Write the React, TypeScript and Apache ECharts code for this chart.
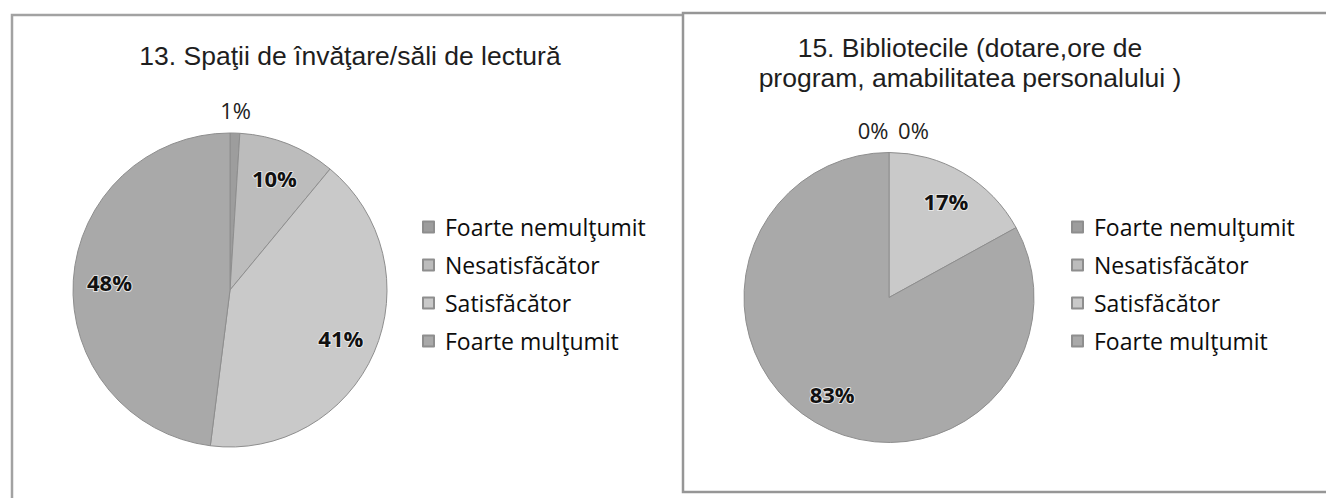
import React, { useEffect, useRef } from "react";
import * as echarts from "echarts";

const categories = ["Foarte nemulţumit", "Nesatisfăcător", "Satisfăcător", "Foarte mulţumit"];
const valuesSpatii = [1, 10, 41, 48];
const valuesBiblioteci = [0, 0, 17, 83];
const sliceColors = ["#9d9d9d", "#bcbcbc", "#c9c9c9", "#a9a9a9"];
const titleSpatii = "13. Spaţii de învăţare/săli de lectură";
const titleBiblioteci = "15. Bibliotecile (dotare,ore de\nprogram, amabilitatea personalului )";

const SMALL = 5;

function buildPie(values: number[], center: [number, number], r: number) {
  const base = {
    type: "pie",
    center,
    startAngle: 90,
    clockwise: true,
    silent: true,
    emphasis: { disabled: true },
    labelLine: { show: false },
  };
  const visible = {
    ...base,
    radius: [0, r],
    data: categories.map((name, i) => ({ name, value: values[i], itemStyle: { color: sliceColors[i] } })),
    itemStyle: { borderColor: "#8e8e8e", borderWidth: 1 },
    label: { show: false },
  };
  const inner = {
    ...base,
    radius: [r * 0.5, r],
    data: categories.map((name, i) => ({ name, value: values[i], label: { show: values[i] >= SMALL } })),
    itemStyle: { color: "rgba(0,0,0,0)" },
    label: {
      show: true,
      position: "inside",
      formatter: (p: any) => p.value + "%",
      fontFamily: "Open Sans",
      fontWeight: "bold",
      fontSize: 22,
      color: "#111",
      textBorderColor: "rgba(235,235,235,0.9)",
      textBorderWidth: 2,
    },
  };
  let zeroIdx = 0;
  const outer = {
    ...base,
    radius: [r, r + 40],
    data: categories.map((name, i) => {
      let padding: number[] = [0, 0, 0, 0];
      if (values[i] === 0) {
        padding = zeroIdx === 0 ? [0, 32, 0, 0] : [0, 0, 0, 49];
        zeroIdx++;
      }
      return { name, value: values[i], label: { show: values[i] < SMALL, padding } };
    }),
    itemStyle: { color: "rgba(0,0,0,0)" },
    label: {
      show: true,
      position: "inside",
      formatter: (p: any) => p.value + "%",
      fontFamily: "Open Sans",
      fontSize: 22,
      color: "#222",
    },
  };
  return [visible, inner, outer];
}

function makeLegend(left: number) {
  return {
    orient: "vertical",
    left,
    top: 215.5,
    padding: 0,
    icon: "rect",
    itemWidth: 11,
    itemHeight: 11,
    itemGap: 15,
    selectedMode: false,
    data: categories,
    textStyle: {
      fontFamily: "Open Sans",
      fontSize: 23,
      lineHeight: 23,
      color: "#0d0d0d",
      padding: [0, 0, 0, 6],
    },
  };
}

export default function App() {
  const ref = useRef<HTMLDivElement>(null);
  useEffect(() => {
    if (!ref.current) return;
    const chart = echarts.init(ref.current, null, { renderer: "svg" });
    chart.setOption({
      animation: false,
      backgroundColor: "#ffffff",
      title: [
        {
          text: titleSpatii,
          left: 350,
          top: 56,
          padding: 0,
          textAlign: "center",
          textVerticalAlign: "middle",
          textStyle: { fontFamily: "Liberation Sans", fontWeight: "normal", fontSize: 26.5, color: "#1e1e1e" },
        },
        {
          text: titleBiblioteci,
          left: 970,
          top: 63,
          padding: 0,
          textAlign: "center",
          textVerticalAlign: "middle",
          textStyle: { fontFamily: "Liberation Sans", fontWeight: "normal", fontSize: 26.5, lineHeight: 30, color: "#1e1e1e" },
        },
      ],
      legend: [makeLegend(422), makeLegend(1071)],
      graphic: [
        {
          type: "polyline",
          z: 0,
          silent: true,
          shape: { points: [[12, 600], [12, 15], [684, 15]] },
          style: { fill: "none", stroke: "#a2a2a2", lineWidth: 2.5 },
        },
        {
          type: "rect",
          z: 0,
          silent: true,
          shape: { x: 683, y: 13, width: 720, height: 479 },
          style: { fill: "#ffffff", stroke: "#969696", lineWidth: 2.5 },
        },
      ],
      series: [
        ...buildPie(valuesSpatii, [230, 290], 157),
        ...buildPie(valuesBiblioteci, [889, 297.5], 145),
      ],
    });
    return () => chart.dispose();
  }, []);
  return (
    <div
      ref={ref}
      style={{ position: "fixed", left: 0, top: 0, width: 1326, height: 498, background: "#fff" }}
    />
  );
}
